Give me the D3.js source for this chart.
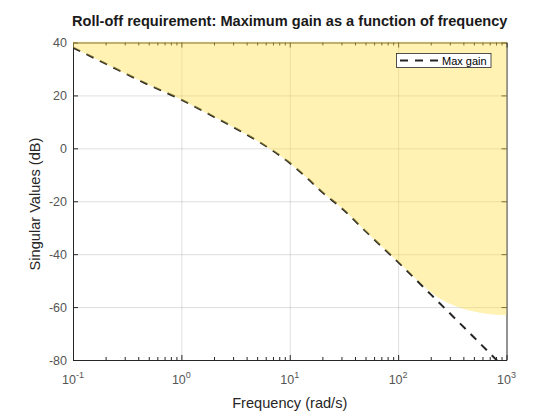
<!DOCTYPE html>
<html>
<head>
<meta charset="utf-8">
<script src="https://cdn.jsdelivr.net/npm/d3@7"></script>
<style>
  body { margin: 0; background: #fff; }
  text { font-family: "Liberation Sans", Arial, sans-serif; }
</style>
</head>
<body>
<div id="chart-area"></div>
<script>
// Values
const freqs   = [0.1, 0.2, 0.5, 1, 2, 3, 4, 5, 7, 10, 15, 20, 30, 50, 100, 200, 500, 1000];
const maxGain = [38.1, 32.0, 24.0, 18.4, 11.9, 8.1, 5.2, 2.9, -0.9, -5.5, -11.8, -16.6, -22.5, -31.3, -43.0, -55.2, -71.4, -83.8];

// lower edge of the shaded (forbidden) region
const boundFreqs = [0.1, 0.2, 0.5, 1, 2, 3, 4, 5, 7, 10, 15, 20, 30, 50, 80, 100, 150, 226, 346, 569, 1000];
const boundGain  = [38.1, 32.0, 24.0, 18.4, 11.9, 8.1, 5.2, 2.9, -0.9, -5.5, -11.8, -16.6, -22.5, -31.3, -39.2, -42.9, -49.8, -56.0, -59.8, -62.1, -63.1];

const xTicks = [0.1, 1, 10, 100, 1000];
const xExponents = ["-1", "0", "1", "2", "3"];
const yTicks = [-80, -60, -40, -20, 0, 20, 40];

const titleText = "Roll-off requirement: Maximum gain as a function of frequency";
const xLabel = "Frequency (rad/s)";
const yLabel = "Singular Values (dB)";
const legendLabel = "Max gain";

let width = 560,
	height = 420;
const plotLeft = 73, plotRight = 506.5, plotTop = 42.5, plotBottom = 360;
const axisColor = "#262626";

let svg = d3.select("#chart-area")
	.append("svg")
	.attr("width", width)
	.attr("height", height);

const x = d3.scaleLog().domain([0.1, 1000]).range([plotLeft, plotRight]);
const y = d3.scaleLinear().domain([-80, 40]).range([plotBottom, plotTop]);

// minor ticks 2..9 for each decade
let minorTicks = [];
xTicks.slice(0, -1).forEach(d => {
	for (let k = 2; k <= 9; k++) minorTicks.push(d * k);
});

const defs = svg.append("defs");
defs.append("clipPath")
	.attr("id", "plot-clip")
	.append("rect")
	.attr("x", plotLeft)
	.attr("y", plotTop)
	.attr("width", plotRight - plotLeft)
	.attr("height", plotBottom - plotTop);

defs.append("clipPath")
	.attr("id", "fill-clip")
	.append("rect")
	.attr("x", plotLeft)
	.attr("y", plotTop - 1)
	.attr("width", plotRight - plotLeft + 1)
	.attr("height", plotBottom - plotTop + 1);

// Grid lines
svg.append("g")
	.attr("class", "grid")
	.attr("transform", "translate(0," + plotBottom + ")")
	.call(d3.axisBottom(x).tickValues(xTicks.slice(1, -1)).tickSize(-(plotBottom - plotTop)).tickFormat(""))
	.call(g => g.select(".domain").remove());

svg.append("g")
	.attr("class", "grid")
	.attr("transform", "translate(" + plotLeft + ",0)")
	.call(d3.axisLeft(y).tickValues(yTicks.slice(1, -1)).tickSize(-(plotRight - plotLeft)).tickFormat(""))
	.call(g => g.select(".domain").remove());

svg.selectAll(".grid line")
	.attr("stroke", "rgba(38,38,38,0.15)")
	.attr("stroke-width", 1);

// Axes (ticks pointing inward, box on all four sides)
function drawAxis(axis, transform) {
	return svg.append("g")
		.attr("class", "axis")
		.attr("transform", transform)
		.call(axis)
		.call(g => g.selectAll("text").remove());
}

drawAxis(d3.axisBottom(x).tickValues(xTicks).tickSizeInner(-5).tickSizeOuter(0), "translate(0," + plotBottom + ")");
drawAxis(d3.axisTop(x).tickValues(xTicks).tickSizeInner(-5).tickSizeOuter(0), "translate(0," + plotTop + ")");
drawAxis(d3.axisBottom(x).tickValues(minorTicks).tickSizeInner(-3).tickSizeOuter(0), "translate(0," + plotBottom + ")")
	.call(g => g.select(".domain").remove());
drawAxis(d3.axisTop(x).tickValues(minorTicks).tickSizeInner(-3).tickSizeOuter(0), "translate(0," + plotTop + ")")
	.call(g => g.select(".domain").remove());
drawAxis(d3.axisLeft(y).tickValues(yTicks).tickSizeInner(-5).tickSizeOuter(0), "translate(" + plotLeft + ",0)");
drawAxis(d3.axisRight(y).tickValues(yTicks).tickSizeInner(-5).tickSizeOuter(0), "translate(" + plotRight + ",0)");

svg.selectAll(".axis line, .axis path")
	.attr("stroke", axisColor)
	.attr("stroke-width", 1);

// Max gain curve
const line = d3.line()
	.x((d, i) => x(freqs[i]))
	.y(d => y(d))
	.curve(d3.curveMonotoneX);

svg.append("path")
	.datum(maxGain)
	.attr("clip-path", "url(#plot-clip)")
	.attr("fill", "none")
	.attr("stroke", axisColor)
	.attr("stroke-width", 2)
	.attr("stroke-dasharray", "8,7")
	.attr("d", line);

// Shaded region above the bound (semi-transparent, drawn over everything)
const area = d3.area()
	.x((d, i) => x(boundFreqs[i]))
	.y0(plotTop - 1)
	.y1(d => y(d))
	.curve(d3.curveMonotoneX);

svg.append("path")
	.datum(boundGain)
	.attr("clip-path", "url(#fill-clip)")
	.attr("fill", "rgb(255,222,65)")
	.attr("fill-opacity", 0.4)
	.attr("d", area);

// Tick labels
svg.selectAll(".ylab")
	.data(yTicks)
	.enter()
	.append("text")
	.attr("class", "ylab")
	.attr("x", plotLeft - 6)
	.attr("y", d => y(d) + 4.5)
	.attr("text-anchor", "end")
	.attr("font-size", 12.5)
	.attr("fill", "#555")
	.text(d => d);

let xlab = svg.selectAll(".xlab")
	.data(xTicks)
	.enter()
	.append("text")
	.attr("class", "xlab")
	.attr("x", d => x(d))
	.attr("y", 384)
	.attr("text-anchor", "middle")
	.attr("font-size", 12.5)
	.attr("fill", "#555");
xlab.append("tspan").text("10");
xlab.append("tspan")
	.attr("dy", -6)
	.attr("font-size", 9)
	.text((d, i) => xExponents[i]);

// Title and axis labels
svg.append("text")
	.attr("x", (plotLeft + plotRight) / 2)
	.attr("y", 26)
	.attr("text-anchor", "middle")
	.attr("font-size", 14.6)
	.attr("font-weight", "bold")
	.attr("fill", "#1a1a1a")
	.text(titleText);

svg.append("text")
	.attr("x", (plotLeft + plotRight) / 2)
	.attr("y", 408)
	.attr("text-anchor", "middle")
	.attr("font-size", 14.6)
	.attr("fill", "#262626")
	.text(xLabel);

svg.append("text")
	.attr("transform", "rotate(-90)")
	.attr("x", -204)
	.attr("y", 40)
	.attr("text-anchor", "middle")
	.attr("font-size", 14.6)
	.attr("fill", "#262626")
	.text(yLabel);

// Legend
const legend = svg.append("g").attr("class", "legend");
legend.append("rect")
	.attr("x", 396.5)
	.attr("y", 53.5)
	.attr("width", 94.5)
	.attr("height", 14)
	.attr("fill", "#fff")
	.attr("stroke", axisColor)
	.attr("stroke-width", 0.8);
legend.append("line")
	.attr("x1", 400)
	.attr("x2", 440)
	.attr("y1", 60.5)
	.attr("y2", 60.5)
	.attr("stroke", axisColor)
	.attr("stroke-width", 2)
	.attr("stroke-dasharray", "8,7");
legend.append("text")
	.attr("x", 442)
	.attr("y", 64.5)
	.attr("font-size", 11)
	.attr("fill", "#000")
	.text(legendLabel);
</script>
</body>
</html>
